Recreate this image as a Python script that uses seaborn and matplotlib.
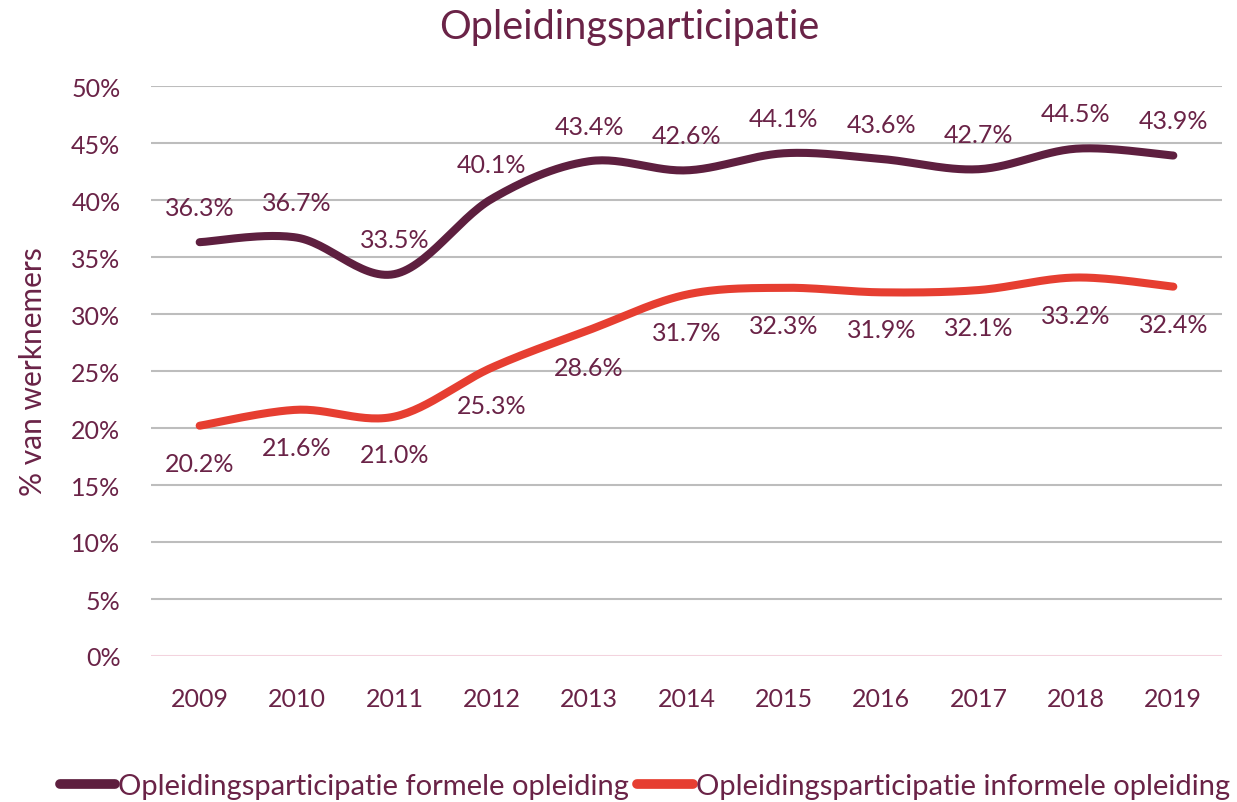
import numpy as np
import pandas as pd
import matplotlib
matplotlib.use("Agg")
import matplotlib.pyplot as plt
import seaborn as sns

# Data
years = ["2009", "2010", "2011", "2012", "2013", "2014", "2015", "2016", "2017", "2018", "2019"]
formeel = [36.3, 36.7, 33.5, 40.1, 43.4, 42.6, 44.1, 43.6, 42.7, 44.5, 43.9]
informeel = [20.2, 21.6, 21.0, 25.3, 28.6, 31.7, 32.3, 31.9, 32.1, 33.2, 32.4]
series_names = ["Opleidingsparticipatie formele opleiding",
                "Opleidingsparticipatie informele opleiding"]
y_ticks = [0, 5, 10, 15, 20, 25, 30, 35, 40, 45, 50]

PURPLE = "#5E1F3F"
TEXT = "#6A2347"
RED = "#E63E31"

sns.set_theme(style="white")
plt.rcParams["font.family"] = ["Lato", "DejaVu Sans"]


def smooth_curve(values, steps=30):
    """Catmull-Rom style smoothing between consecutive points (as used for smoothed line charts)."""
    y = np.asarray(values, dtype=float)
    x = np.arange(len(y), dtype=float)
    xs, ys = [], []
    n = len(y)
    for i in range(n - 1):
        p0 = np.array([x[max(i - 1, 0)], y[max(i - 1, 0)]])
        p1 = np.array([x[i], y[i]])
        p2 = np.array([x[i + 1], y[i + 1]])
        p3 = np.array([x[min(i + 2, n - 1)], y[min(i + 2, n - 1)]])
        c1 = p1 + (p2 - p0) / 6.0
        c2 = p2 - (p3 - p1) / 6.0
        t = np.linspace(0, 1, steps, endpoint=(i == n - 2))[:, None]
        pts = ((1 - t) ** 3) * p1 + 3 * ((1 - t) ** 2) * t * c1 + 3 * (1 - t) * t ** 2 * c2 + t ** 3 * p2
        xs.append(pts[:, 0])
        ys.append(pts[:, 1])
    return np.concatenate(xs), np.concatenate(ys)


fig = plt.figure(figsize=(12.37, 8.03), dpi=100)
ax = fig.add_axes([151 / 1237, 1 - 657 / 803, (1222 - 151) / 1237, (657 - 87) / 803])

frames = []
for name, vals in zip(series_names, [formeel, informeel]):
    sx, sy = smooth_curve(vals)
    frames.append(pd.DataFrame({"x": sx, "y": sy, "serie": name}))
df = pd.concat(frames, ignore_index=True)

sns.lineplot(data=df, x="x", y="y", hue="serie", sort=False,
             palette={series_names[0]: PURPLE, series_names[1]: RED},
             linewidth=5.8, ax=ax, legend=False, estimator=None,
             solid_capstyle="round")

# Value labels
for i, v in enumerate(formeel):
    ax.annotate(f"{v:.1f}%", (i, v), xytext=(0, 25), textcoords="offset points",
                ha="center", va="center", fontsize=18, color=TEXT)
for i, v in enumerate(informeel):
    ax.annotate(f"{v:.1f}%", (i, v), xytext=(0, -27), textcoords="offset points",
                ha="center", va="center", fontsize=18, color=TEXT)

ax.set_xlim(-0.5, len(years) - 0.5)
ax.set_ylim(0, 50)
ax.set_xticks(range(len(years)))
ax.set_xticklabels(years)
ax.set_yticks(y_ticks)
ax.set_yticklabels([f"{t}%" for t in y_ticks])
ax.tick_params(axis="both", length=0, labelsize=18, labelcolor=TEXT)
ax.tick_params(axis="x", pad=22)
ax.tick_params(axis="y", pad=22)

for t in y_ticks[1:]:
    ax.axhline(t, color="#BDBDBD", linewidth=1.5, zorder=0)
ax.axhline(0, color="#F3D3DE", linewidth=1.5, zorder=0)
for s in ax.spines.values():
    s.set_visible(False)

ax.set_xlabel("")
ax.set_ylabel("% van werknemers", fontsize=21.5, color=TEXT)
ax.yaxis.set_label_coords(-104 / 1071, 0.5)

fig.text(629 / 1237, 1 - 28 / 803, "Opleidingsparticipatie", ha="center", va="center",
         fontsize=28.5, color=TEXT)

handles = [plt.Line2D([], [], color=PURPLE, linewidth=7, solid_capstyle="round"),
           plt.Line2D([], [], color=RED, linewidth=7, solid_capstyle="round")]
fig.legend(handles, series_names, loc="center", bbox_to_anchor=(645 / 1237, 1 - 787 / 803),
           ncol=2, frameon=False, fontsize=21, labelcolor=TEXT,
           handlelength=1.9, handletextpad=0.12, columnspacing=0.28)

fig.savefig("out.png", dpi=100, facecolor="white")
